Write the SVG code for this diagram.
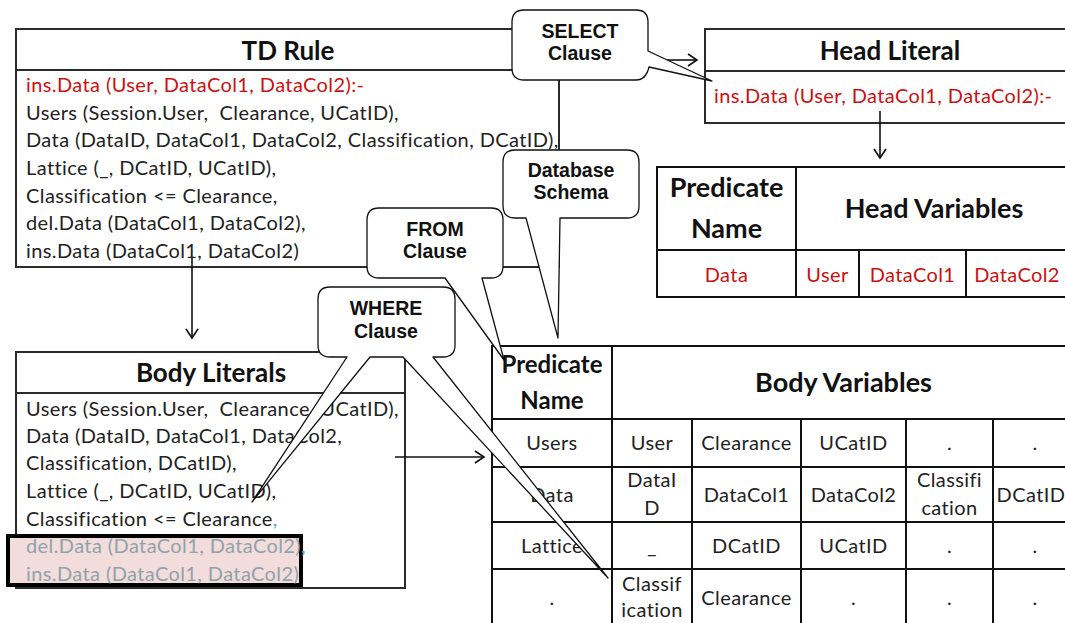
<svg xmlns="http://www.w3.org/2000/svg" width="1065" height="623" viewBox="0 0 1065 623">
  <style>
    .box { fill: #ffffff; stroke: #2b2b2b; stroke-width: 2; }
    .rule { stroke: #2b2b2b; stroke-width: 2; fill: none; }
    .grid { stroke: #111111; stroke-width: 2; fill: none; }
    .title { font-family: Lato, "Liberation Sans", sans-serif; font-weight: bold; font-size: 26px; fill: #111111; text-anchor: middle; }
    .txt { font-family: Lato, "Liberation Sans", sans-serif; font-size: 20px; letter-spacing: 0.4px; fill: #222222; white-space: pre; }
    .th { font-family: Lato, "Liberation Sans", sans-serif; font-weight: bold; font-size: 27px; fill: #111111; text-anchor: middle; }
    .th.small { font-size: 24px; }
    .td { font-family: Lato, "Liberation Sans", sans-serif; font-size: 20px; letter-spacing: 0.4px; fill: #222222; text-anchor: middle; }
    .callout { fill: #ffffff; stroke: #111111; stroke-width: 1.3; stroke-linejoin: round; }
    .ctext { font-family: "Liberation Sans", Arial, sans-serif; font-weight: bold; font-size: 19.5px; fill: #111111; text-anchor: middle; }
    .conn { stroke: #111111; stroke-width: 1.6; fill: none; marker-end: url(#open); }
    .red { fill: #cc1111; }
    .dim { fill: #8fa3ab; }
    .teal { fill: #4aa9c0; }
  </style>
  <defs>
    <marker id="open" markerWidth="12" markerHeight="14" refX="10" refY="7" orient="auto" markerUnits="userSpaceOnUse">
      <path d="M1,1 L10,7 L1,13" fill="none" stroke="#111111" stroke-width="1.6"/>
    </marker>
  </defs>

  <rect width="1065" height="623" fill="#ffffff"/>

  <!-- TD Rule -->
  <g id="td-rule">
    <rect class="box" x="16" y="29" width="543" height="238"/>
    <line class="rule" x1="16" y1="70" x2="559" y2="70"/>
    <text class="title" x="288" y="60">TD Rule</text>
    <text class="txt red" x="26" y="92">ins.Data (User, DataCol1, DataCol2):-</text>
    <text class="txt" x="26" y="120">Users (Session.User,  Clearance, UCatID),</text>
    <text class="txt" x="26" y="147">Data (DataID, DataCol1, DataCol2, Classification, DCatID),</text>
    <text class="txt" x="26" y="175">Lattice (_, DCatID, UCatID),</text>
    <text class="txt" x="26" y="203">Classification &lt;= Clearance,</text>
    <text class="txt" x="26" y="230">del.Data (DataCol1, DataCol2),</text>
    <text class="txt" x="26" y="258">ins.Data (DataCol1, DataCol2)</text>
  </g>

  <!-- Head Literal -->
  <g id="head-literal">
    <rect class="box" x="705" y="29" width="370" height="94"/>
    <line class="rule" x1="705" y1="71" x2="1075" y2="71"/>
    <text class="title" x="890" y="60">Head Literal</text>
    <text class="txt red" x="714" y="103">ins.Data (User, DataCol1, DataCol2):-</text>
  </g>

  <!-- Head variables table -->
  <g id="head-table">
    <rect class="grid" x="657" y="167" width="418" height="130" fill="#ffffff"/>
    <line class="grid" x1="657" y1="250" x2="1075" y2="250"/>
    <line class="grid" x1="796" y1="167" x2="796" y2="297"/>
    <line class="grid" x1="859" y1="250" x2="859" y2="297"/>
    <line class="grid" x1="966" y1="250" x2="966" y2="297"/>
    <text class="th" x="726.5" y="197">Predicate</text>
    <text class="th" x="726.5" y="238">Name</text>
    <text class="th" x="934" y="218">Head Variables</text>
    <text class="td red" x="726.5" y="282">Data</text>
    <text class="td red" x="827.5" y="282">User</text>
    <text class="td red" x="912.5" y="282">DataCol1</text>
    <text class="td red" x="1017" y="282">DataCol2</text>
  </g>

  <!-- Body Literals -->
  <g id="body-literals">
    <rect class="box" x="16" y="352" width="389" height="236"/>
    <line class="rule" x1="16" y1="393" x2="405" y2="393"/>
    <text class="title" x="211" y="382">Body Literals</text>
    <text class="txt" x="26" y="416">Users (Session.User,  Clearance, UCatID),</text>
    <text class="txt" x="26" y="443">Data (DataID, DataCol1, DataCol2,</text>
    <text class="txt" x="26" y="470">Classification, DCatID),</text>
    <text class="txt" x="26" y="498">Lattice (_, DCatID, UCatID),</text>
    <text class="txt" x="26" y="526">Classification &lt;= Clearance<tspan class="teal">,</tspan></text>
    <rect x="8" y="536" width="293" height="49" fill="#f2dcdc" stroke="#000000" stroke-width="4"/>
    <text class="txt" x="26" y="553"><tspan class="dim">del.Data (DataCol1, DataCol2)</tspan><tspan class="teal">,</tspan></text>
    <text class="txt dim" x="26" y="581">ins.Data (DataCol1, DataCol2)</text>
  </g>

  <!-- Body variables table -->
  <g id="body-table">
    <rect class="grid" x="492" y="346" width="583" height="290" fill="#ffffff"/>
    <line class="grid" x1="492" y1="419" x2="1075" y2="419"/>
    <line class="grid" x1="492" y1="467" x2="1075" y2="467"/>
    <line class="grid" x1="492" y1="522" x2="1075" y2="522"/>
    <line class="grid" x1="492" y1="569" x2="1075" y2="569"/>
    <line class="grid" x1="612" y1="346" x2="612" y2="636"/>
    <line class="grid" x1="692" y1="419" x2="692" y2="636"/>
    <line class="grid" x1="801" y1="419" x2="801" y2="636"/>
    <line class="grid" x1="906" y1="419" x2="906" y2="636"/>
    <line class="grid" x1="993" y1="419" x2="993" y2="636"/>
    <text class="th small" x="552" y="373">Predicate</text>
    <text class="th small" x="552" y="409">Name</text>
    <text class="th" x="843.5" y="392">Body Variables</text>

    <text class="td" x="552" y="450">Users</text>
    <text class="td" x="652" y="450">User</text>
    <text class="td" x="746.5" y="450">Clearance</text>
    <text class="td" x="853.5" y="450">UCatID</text>
    <text class="td" x="949.5" y="450">.</text>
    <text class="td" x="1035" y="450">.</text>

    <text class="td" x="552" y="502">Data</text>
    <text class="td" x="652" y="487">DataI</text>
    <text class="td" x="652" y="515">D</text>
    <text class="td" x="746.5" y="502">DataCol1</text>
    <text class="td" x="853.5" y="502">DataCol2</text>
    <text class="td" x="949.5" y="487">Classifi</text>
    <text class="td" x="949.5" y="515">cation</text>
    <text class="td" x="1031" y="502">DCatID</text>

    <text class="td" x="552" y="553">Lattice</text>
    <text class="td" x="652" y="553">_</text>
    <text class="td" x="746.5" y="553">DCatID</text>
    <text class="td" x="853.5" y="553">UCatID</text>
    <text class="td" x="949.5" y="553">.</text>
    <text class="td" x="1035" y="553">.</text>

    <text class="td" x="552" y="605">.</text>
    <text class="td" x="652" y="591">Classif</text>
    <text class="td" x="652" y="617">ication</text>
    <text class="td" x="746.5" y="605">Clearance</text>
    <text class="td" x="853.5" y="605">.</text>
    <text class="td" x="949.5" y="605">.</text>
    <text class="td" x="1035" y="605">.</text>
  </g>

  <!-- Connectors -->
  <g id="connectors">
    <line class="conn" x1="192" y1="258" x2="192" y2="338"/>
    <line class="conn" x1="880" y1="111" x2="880" y2="158"/>
    <line class="conn" x1="395" y1="457" x2="484" y2="457"/>
    <line class="conn" x1="667" y1="60" x2="697" y2="60"/>
  </g>

  <!-- Callouts -->
  <g id="callout-select">
    <path class="callout" d="M524,10 H636 Q648,10 648,22 V51 L712,81 L649,67 Q646,80 636,80 H524 Q512,80 512,68 V22 Q512,10 524,10 Z"/>
    <text class="ctext" x="580" y="38">SELECT</text>
    <text class="ctext" x="580" y="60">Clause</text>
  </g>
  <g id="callout-schema">
    <path class="callout" d="M515,150 H627 Q639,150 639,162 V206 Q639,218 627,218 H560 L558,338 L526,218 H515 Q503,218 503,206 V162 Q503,150 515,150 Z"/>
    <text class="ctext" x="571" y="177">Database</text>
    <text class="ctext" x="571" y="199">Schema</text>
  </g>
  <g id="callout-from">
    <path class="callout" d="M379,208 H491 Q503,208 503,220 V266 Q503,278 491,278 H482 L504,360 L445,278 H379 Q367,278 367,266 V220 Q367,208 379,208 Z"/>
    <text class="ctext" x="435" y="236">FROM</text>
    <text class="ctext" x="435" y="258">Clause</text>
  </g>
  <g id="callout-where">
    <path class="callout" d="M330,287 H443 Q455,287 455,299 V345 Q455,357 443,357 H433 L608,578 L403,357 H370 L252,502 L347,357 H330 Q318,357 318,345 V299 Q318,287 330,287 Z"/>
    <text class="ctext" x="386" y="315">WHERE</text>
    <text class="ctext" x="386" y="338">Clause</text>
  </g>
</svg>
